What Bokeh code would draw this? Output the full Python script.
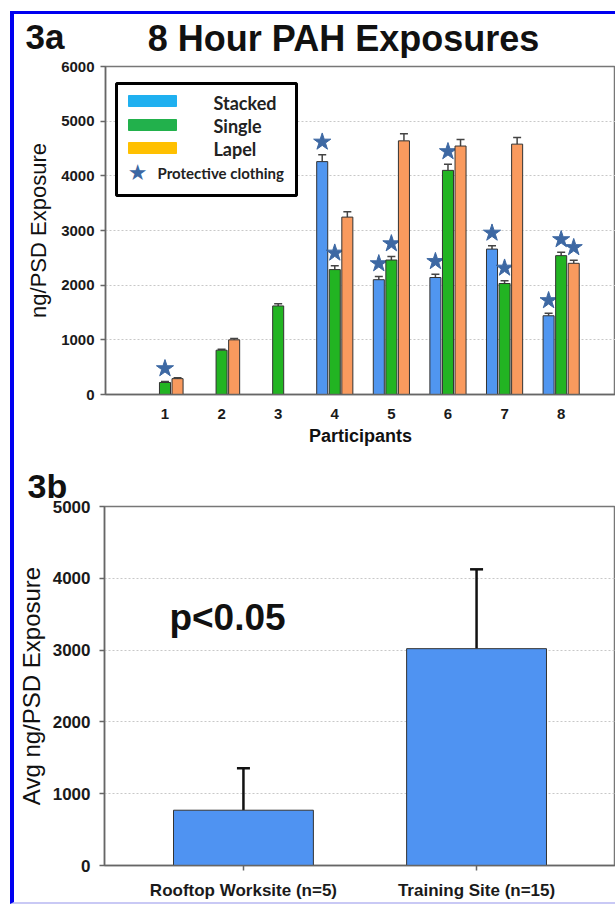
import math
from bokeh.plotting import figure
from bokeh.models import (ColumnDataSource, Whisker, TeeHead, Label, BoxAnnotation, Title,
                          FixedTicker, SingleIntervalTicker, FactorRange, Range1d)
from bokeh.layouts import column
from bokeh.embed import file_html
from bokeh.resources import INLINE

NaN = float("nan")

# ---------------- data: 3a ----------------
participants = [1, 2, 3, 4, 5, 6, 7, 8]
stacked = [NaN, NaN, NaN, 4260, 2100, 2140, 2660, 1440]
stacked_err = [NaN, NaN, NaN, 125, 60, 60, 60, 45]
single = [220, 810, 1620, 2285, 2460, 4100, 2030, 2540]
single_err = [20, 20, 40, 70, 65, 110, 50, 60]
lapel = [290, 1000, NaN, 3245, 4640, 4545, 4580, 2400]
lapel_err = [15, 25, NaN, 100, 130, 120, 120, 55]
stacked_pc = [False, False, False, True, True, True, True, True]
single_pc = [True, False, False, True, True, True, True, True]
lapel_pc = [False, False, False, False, False, False, False, True]

# ---------------- data: 3b ----------------
sites = ["Rooftop Worksite (n=5)", "Training Site (n=15)"]
site_avg = [770, 3020]
site_err = [585, 1105]

FONT = "Liberation Sans"
STAR = "#3d68a3"
W = 601


def header(height):
    h = figure(width=W, height=height, output_backend="svg", toolbar_location=None,
               x_range=Range1d(0, 1), y_range=Range1d(0, 1),
               x_axis_location=None, y_axis_location=None,
               min_border_left=0, min_border_right=0, min_border_top=0, min_border_bottom=0)
    h.frame_align = False
    h.grid.visible = False
    h.outline_line_color = None
    return h


def style_axes(p, tick_size):
    for ax in (p.xaxis[0], p.yaxis[0]):
        ax.axis_line_color = "#666666"
        ax.axis_line_width = 1.5
        ax.major_tick_line_color = "#666666"
        ax.major_tick_line_width = 1.5
        ax.minor_tick_line_color = None
        ax.major_tick_in = 0
        ax.major_label_text_font = FONT
        ax.major_label_text_font_style = "bold"
        ax.major_label_text_font_size = tick_size
        ax.major_label_text_color = "#1a1a1a"
        ax.axis_label_text_font = FONT
        ax.axis_label_text_color = "#111111"
    p.xgrid.visible = False
    p.ygrid.grid_line_color = "#c8c8c8"
    p.ygrid.grid_line_dash = "2 2"
    p.ygrid.grid_line_width = 1
    p.outline_line_color = "#777777"
    p.outline_line_width = 1.5
    p.frame_align = False


# ================= header 3a =================
h1 = header(44)
h1.add_layout(Label(x=11, y=22, x_units="screen", y_units="screen", text="3a",
                    text_font=FONT, text_font_style="bold", text_font_size="35px",
                    text_baseline="middle", text_align="left", text_color="#111111"))
h1.add_layout(Label(x=329, y=20, x_units="screen", y_units="screen", text="8 Hour PAH Exposures",
                    text_font=FONT, text_font_style="bold", text_font_size="36px",
                    text_baseline="middle", text_align="center", text_color="#111111"))

# ================= Figure 3a =================
p1 = figure(width=W, height=400, output_backend="svg", toolbar_location=None,
            x_range=Range1d(-0.051, 8.96), y_range=Range1d(0, 6000),
            min_border_left=91, min_border_right=0, min_border_top=8, min_border_bottom=64)
style_axes(p1, "15px")
p1.xaxis.ticker = FixedTicker(ticks=participants)
p1.yaxis.ticker = SingleIntervalTicker(interval=1000)
p1.xaxis.major_tick_out = 0
p1.xaxis.major_label_standoff = 14
p1.yaxis.major_tick_out = 5
p1.yaxis.major_label_standoff = 6
p1.xaxis.axis_label = "Participants"
p1.xaxis.axis_label_text_font_style = "bold"
p1.xaxis.axis_label_text_font_size = "18px"
p1.xaxis.axis_label_standoff = 4
p1.yaxis.axis_label = "ng/PSD Exposure"
p1.yaxis.axis_label_text_font_style = "normal"
p1.yaxis.axis_label_text_font_size = "22px"
p1.yaxis.axis_label_standoff = 7

BAR_W = 0.195
OFFS = 0.222
STAR_GAP = 235
series = [
    (stacked, stacked_err, stacked_pc, -OFFS, "#5096f0"),
    (single, single_err, single_pc, 0.0, "#22b422"),
    (lapel, lapel_err, lapel_pc, OFFS, "#f99a5e"),
]
for vals, errs, pc, off, color in series:
    xs = [x + off for x in participants]
    upper = [v + e for v, e in zip(vals, errs)]
    src = ColumnDataSource(dict(x=xs, top=vals, upper=upper))
    p1.vbar(x="x", top="top", width=BAR_W, source=src, fill_color=color,
            line_color="#333333", line_width=1)
    wsrc = ColumnDataSource(dict(x=[a for a, v in zip(xs, vals) if not math.isnan(v)],
                                 lo=[v for v in vals if not math.isnan(v)],
                                 up=[u for u, v in zip(upper, vals) if not math.isnan(v)]))
    p1.add_layout(Whisker(source=wsrc, base="x", lower="lo", upper="up", dimension="height",
                          line_color="#444444", line_width=1.5, lower_head=None,
                          upper_head=TeeHead(size=8, line_color="#444444", line_width=1.5)))
    sx = [a for a, f in zip(xs, pc) if f]
    sy = [u + STAR_GAP for u, f in zip(upper, pc) if f]
    p1.scatter(x=sx, y=sy, marker="star", size=18, fill_color=STAR, line_color=STAR)

# legend (manual; screen units relative to frame bottom-left)
p1.add_layout(BoxAnnotation(left=11, right=191, top=311, bottom=199,
                            left_units="screen", right_units="screen",
                            top_units="screen", bottom_units="screen",
                            fill_color="white", fill_alpha=1.0,
                            line_color="black", line_alpha=1.0, line_width=3))
leg = [("Stacked", "#1fb0f0", 299, 288, 292),
       ("Single", "#22b14c", 275, 264, 269),
       ("Lapel", "#ffc000", 252, 241, 246)]
for name, col, t, b, ty in leg:
    p1.add_layout(BoxAnnotation(left=23, right=71, top=t, bottom=b,
                                left_units="screen", right_units="screen",
                                top_units="screen", bottom_units="screen",
                                fill_color=col, fill_alpha=1.0, line_color=col, line_alpha=1.0,
                                line_width=1))
    p1.add_layout(Label(x=108, y=ty, x_units="screen", y_units="screen", text=name,
                        text_font="Lato", text_font_style="bold", text_font_size="18px",
                        text_baseline="middle", text_align="left", text_color="#222222"))
p1.add_layout(Label(x=32, y=222, x_units="screen", y_units="screen", text="\u2605",
                    text_font="DejaVu Sans", text_font_size="22px",
                    text_baseline="middle", text_align="center", text_color=STAR))
p1.add_layout(Label(x=52, y=222, x_units="screen", y_units="screen", text="Protective clothing",
                    text_font="Lato", text_font_style="bold", text_font_size="15px",
                    text_baseline="middle", text_align="left", text_color="#222222"))

# ================= Figure 3b =================
p2 = figure(width=W, height=444, output_backend="svg", toolbar_location=None,
            x_range=FactorRange(factors=sites, range_padding=0.096, range_padding_units="absolute"),
            y_range=Range1d(0, 5000),
            min_border_left=88, min_border_right=0, min_border_top=48, min_border_bottom=37)
p2.add_layout(Title(text="3b", align="left", offset=-77, standoff=3,
                    text_font=FONT, text_font_style="bold", text_font_size="34px",
                    text_color="#111111"), "above")
style_axes(p2, "17px")
p2.yaxis.ticker = SingleIntervalTicker(interval=1000)
p2.yaxis.major_tick_out = 5
p2.yaxis.major_label_standoff = 9
p2.xaxis.major_tick_out = 5
p2.xaxis.major_label_standoff = 10
p2.xaxis.major_label_text_font_size = "17px"
p2.yaxis.axis_label = "Avg ng/PSD Exposure"
p2.yaxis.axis_label_text_font_style = "normal"
p2.yaxis.axis_label_text_font_size = "24px"
p2.yaxis.axis_label_standoff = 5

src2 = ColumnDataSource(dict(site=sites, avg=site_avg,
                             up=[a + e for a, e in zip(site_avg, site_err)]))
p2.vbar(x="site", top="avg", width=0.6, source=src2, fill_color="#4f93f2",
        line_color="#333333", line_width=1)
p2.add_layout(Whisker(source=src2, base="site", lower="avg", upper="up", dimension="height",
                      line_color="#111111", line_width=2.5, lower_head=None,
                      upper_head=TeeHead(size=13, line_color="#111111", line_width=2.5)))
p2.add_layout(Label(x=123, y=248, x_units="screen", y_units="screen", text="p<0.05",
                    text_font=FONT, text_font_style="bold", text_font_size="37px",
                    text_baseline="middle", text_align="center", text_color="#111111"))

layout = column(h1, p1, p2, spacing=0,
                styles={"border-left": "4px solid #0000f0", "border-top": "3px solid #0000f0",
                        "border-bottom": "2px solid #c9c9f5",
                        "margin-left": "10px", "margin-top": "11px"})

open("out.html", "w").write(file_html(layout, INLINE))
